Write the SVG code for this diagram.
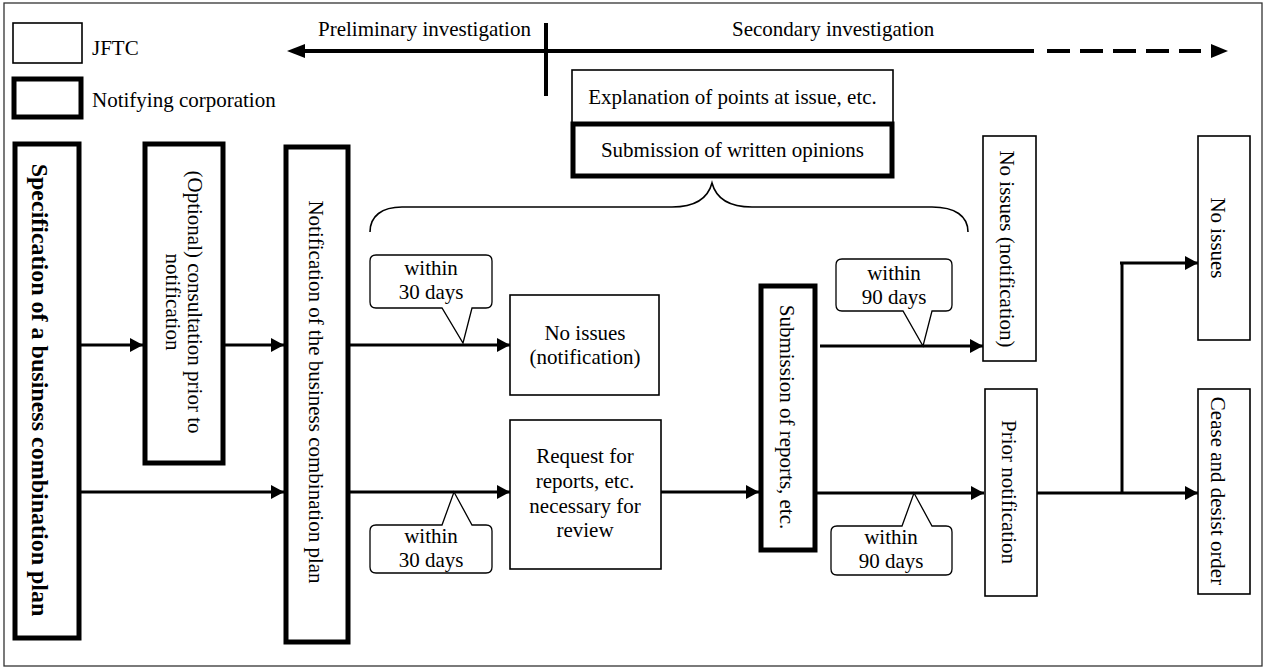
<svg xmlns="http://www.w3.org/2000/svg" width="1266" height="668" viewBox="0 0 1266 668">
<defs>
<marker id="ah" markerUnits="userSpaceOnUse" markerWidth="14" markerHeight="14" refX="13" refY="7" orient="auto">
<path d="M0,0 L13,7 L0,14 Z" fill="#000"/>
</marker>
<style>
text{font-family:"Liberation Serif","Times New Roman",serif;font-size:21px;fill:#000}
.c{text-anchor:middle}
.v{text-anchor:middle;dominant-baseline:central}
.thin{fill:#fff;stroke:#000;stroke-width:1.6}
.thick{fill:#fff;stroke:#000;stroke-width:5}
.ln{fill:none;stroke:#000;stroke-width:3}
.lna{fill:none;stroke:#000;stroke-width:3;marker-end:url(#ah)}
.co{fill:#fff;stroke:#000;stroke-width:1.3}
</style>
</defs>
<rect x="0" y="0" width="1266" height="668" fill="#fff"/>
<rect x="4" y="3" width="1258" height="663" fill="none" stroke="#333" stroke-width="1.3"/>

<g id="legend">
<rect class="thin" x="13" y="23" width="69" height="40"/>
<text x="92" y="55">JFTC</text>
<rect class="thick" x="14" y="79" width="67" height="38" stroke-width="4.5"/>
<text x="92" y="107">Notifying corporation</text>
</g>

<g id="phase">
<text x="318" y="36">Preliminary investigation</text>
<text x="732" y="36">Secondary investigation</text>
<line x1="302" y1="51" x2="1034" y2="51" stroke="#000" stroke-width="4"/>
<polygon points="287,51 305,44 305,58" fill="#000"/>
<line x1="1047" y1="51" x2="1201" y2="51" stroke="#000" stroke-width="4" stroke-dasharray="23 10"/>
<polygon points="1228,51 1211,44 1211,58" fill="#000"/>
<line x1="546" y1="23" x2="546" y2="96" stroke="#000" stroke-width="4"/>
</g>

<g id="explanation">
<rect class="thin" x="572" y="70" width="321" height="53"/>
<text class="c" x="732.5" y="104">Explanation of points at issue, etc.</text>
</g>
<g id="written-opinions">
<rect class="thick" x="573" y="124" width="319" height="52"/>
<text class="c" x="732.5" y="157">Submission of written opinions</text>
</g>
<path id="brace" d="M370,232 C370,216 382,207 402,207 H672 C695,207 708,198 712,183 C716,198 729,207 752,207 H932 C955,207 968,216 968,232" fill="none" stroke="#000" stroke-width="1.6"/>

<g id="connectors">
<line class="lna" x1="81" y1="345" x2="143" y2="345"/>
<line class="lna" x1="225" y1="345" x2="284" y2="345"/>
<line class="lna" x1="81" y1="492" x2="284" y2="492"/>
<line class="lna" x1="350" y1="345" x2="510" y2="345"/>
<line class="lna" x1="350" y1="492" x2="510" y2="492"/>
<line class="lna" x1="661" y1="492" x2="759" y2="492"/>
<line class="lna" x1="820" y1="346" x2="983" y2="346"/>
<line class="lna" x1="817" y1="493" x2="984" y2="493"/>
<line class="lna" x1="1037" y1="493" x2="1198" y2="493"/>
<polyline class="ln" points="1122,493 1122,263" stroke-width="4"/>
<line class="lna" x1="1120" y1="263" x2="1198" y2="263"/>
</g>

<g id="node-specification">
<rect class="thick" x="15" y="144" width="64" height="494"/>
<text class="v" transform="translate(40,390) rotate(90)" style="font-weight:bold;font-size:24px">Specification of a business combination plan</text>
</g>
<g id="node-consultation">
<rect class="thick" x="145" y="144" width="78" height="319"/>
<text class="v" transform="translate(195,302) rotate(90)">(Optional) consultation prior to</text>
<text class="v" transform="translate(173,302) rotate(90)">notification</text>
</g>
<g id="node-notification">
<rect class="thick" x="286" y="147" width="62" height="495"/>
<text class="v" transform="translate(316,392) rotate(90)">Notification of the business combination plan</text>
</g>

<g id="callout-30-upper">
<path class="co" d="M376,255 H486 Q492,255 492,261 V302 Q492,308 486,308 H472 L463,343 L442,308 H376 Q370,308 370,302 V261 Q370,255 376,255 Z"/>
<text class="c" x="431" y="275">within</text>
<text class="c" x="431" y="299">30 days</text>
</g>
<g id="callout-30-lower">
<path class="co" d="M376,525 H442 L454,492 L472,525 H486 Q492,525 492,531 V567 Q492,573 486,573 H376 Q370,573 370,567 V531 Q370,525 376,525 Z"/>
<text class="c" x="431" y="543">within</text>
<text class="c" x="431" y="567">30 days</text>
</g>

<g id="node-no-issues-1">
<rect class="thin" x="510" y="295" width="149" height="100"/>
<text class="c" x="585" y="340">No issues</text>
<text class="c" x="585" y="364">(notification)</text>
</g>
<g id="node-request">
<rect class="thin" x="510" y="420" width="151" height="149"/>
<text class="c" x="585" y="463">Request for</text>
<text class="c" x="585" y="488">reports, etc.</text>
<text class="c" x="585" y="513">necessary for</text>
<text class="c" x="585" y="537">review</text>
</g>
<g id="node-submission-reports">
<rect class="thick" x="761" y="286" width="54" height="264"/>
<text class="v" transform="translate(787,417) rotate(90)">Submission of reports, etc.</text>
</g>

<g id="callout-90-upper">
<path class="co" d="M842,259 H946 Q952,259 952,265 V305 Q952,311 946,311 H932 L923,346 L903,311 H842 Q836,311 836,305 V265 Q836,259 842,259 Z"/>
<text class="c" x="894" y="280">within</text>
<text class="c" x="894" y="304">90 days</text>
</g>
<g id="callout-90-lower">
<path class="co" d="M837,526 H902 L914,493 L932,526 H946 Q952,526 952,532 V569 Q952,575 946,575 H837 Q831,575 831,569 V532 Q831,526 837,526 Z"/>
<text class="c" x="891" y="544">within</text>
<text class="c" x="891" y="568">90 days</text>
</g>

<g id="node-no-issues-notification">
<rect class="thin" x="983" y="136" width="53" height="225"/>
<text class="v" transform="translate(1007,249) rotate(90)">No issues (notification)</text>
</g>
<g id="node-prior-notification">
<rect class="thin" x="985" y="389" width="52" height="207"/>
<text class="v" transform="translate(1009,492) rotate(90)">Prior notification</text>
</g>
<g id="node-no-issues-2">
<rect class="thin" x="1198" y="136" width="52" height="204"/>
<text class="v" transform="translate(1218,238) rotate(90)">No issues</text>
</g>
<g id="node-cease">
<rect class="thin" x="1198" y="389" width="52" height="205"/>
<text class="v" transform="translate(1218,491) rotate(90)">Cease and desist order</text>
</g>
</svg>
